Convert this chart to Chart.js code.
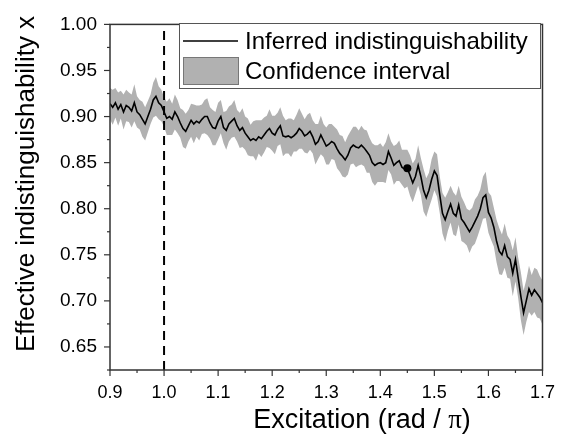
<!DOCTYPE html>
<html>
<head>
<meta charset="utf-8">
<title>Effective indistinguishability</title>
<script src="https://cdn.jsdelivr.net/npm/chart.js@4.4.0/dist/chart.umd.min.js"></script>
<style>
  body { margin: 0; background: #fff; }
</style>
</head>
<body>
<canvas id="myChart" width="567" height="435"></canvas>
<script>
// excitation (rad / pi)
const excitation = [
  0.900,0.905,0.910,0.915,0.920,0.925,0.930,0.935,0.940,0.945,0.950,0.955,0.960,0.965,0.970,0.975,0.980,0.985,0.990,0.995,
  1.000,1.005,1.010,1.015,1.020,1.025,1.030,1.035,1.040,1.045,1.050,1.055,1.060,1.065,1.070,1.075,1.080,1.085,1.090,1.095,
  1.100,1.105,1.110,1.115,1.120,1.125,1.130,1.135,1.140,1.145,1.150,1.155,1.160,1.165,1.170,1.175,1.180,1.185,1.190,1.195,
  1.200,1.205,1.210,1.215,1.220,1.225,1.230,1.235,1.240,1.245,1.250,1.255,1.260,1.265,1.270,1.275,1.280,1.285,1.290,1.295,
  1.300,1.305,1.310,1.315,1.320,1.325,1.330,1.335,1.340,1.345,1.350,1.355,1.360,1.365,1.370,1.375,1.380,1.385,1.390,1.395,
  1.400,1.405,1.410,1.415,1.420,1.425,1.430,1.435,1.440,1.445,1.450,1.455,1.460,1.465,1.470,1.475,1.480,1.485,1.490,1.495,
  1.500,1.505,1.510,1.515,1.520,1.525,1.530,1.535,1.540,1.545,1.550,1.555,1.560,1.565,1.570,1.575,1.580,1.585,1.590,1.595,
  1.600,1.605,1.610,1.615,1.620,1.625,1.630,1.635,1.640,1.645,1.650,1.655,1.660,1.665,1.670,1.675,1.680,1.685,1.690,1.695,1.700
];

// inferred indistinguishability
const inferred = [
  0.914,0.910,0.915,0.908,0.913,0.905,0.912,0.910,0.906,0.915,0.905,0.902,0.897,0.892,0.900,0.908,0.918,0.922,0.915,0.912,
  0.905,0.898,0.900,0.897,0.905,0.900,0.893,0.887,0.884,0.890,0.896,0.892,0.895,0.893,0.897,0.900,0.900,0.893,0.888,0.887,
  0.895,0.900,0.888,0.885,0.892,0.895,0.898,0.890,0.885,0.888,0.882,0.878,0.874,0.876,0.874,0.878,0.876,0.880,0.884,0.887,
  0.882,0.880,0.886,0.890,0.879,0.878,0.879,0.877,0.879,0.882,0.887,0.884,0.879,0.881,0.884,0.878,0.870,0.873,0.880,0.874,
  0.868,0.870,0.873,0.871,0.865,0.860,0.857,0.853,0.858,0.866,0.869,0.867,0.866,0.869,0.866,0.862,0.858,0.850,0.847,0.849,
  0.850,0.848,0.850,0.862,0.855,0.847,0.850,0.852,0.845,0.843,0.844,0.836,0.828,0.835,0.847,0.835,0.820,0.812,0.820,0.832,
  0.841,0.836,0.815,0.795,0.788,0.797,0.805,0.795,0.792,0.804,0.789,0.785,0.780,0.775,0.780,0.786,0.792,0.800,0.812,0.815,
  0.796,0.790,0.780,0.765,0.754,0.750,0.760,0.748,0.745,0.730,0.745,0.725,0.705,0.687,0.700,0.713,0.706,0.712,0.708,0.704,0.698
];

// half width of the confidence interval
const halfWidth = [
  0.017,0.019,0.016,0.018,0.015,0.019,0.017,0.016,0.018,0.020,0.017,0.016,0.019,0.018,0.017,0.016,0.019,0.021,0.018,0.017,
  0.016,0.018,0.020,0.017,0.019,0.018,0.016,0.020,0.019,0.017,0.018,0.021,0.017,0.019,0.016,0.018,0.020,0.017,0.019,0.018,
  0.020,0.018,0.017,0.021,0.019,0.018,0.020,0.017,0.019,0.021,0.018,0.020,0.017,0.019,0.022,0.018,0.020,0.019,0.017,0.021,
  0.019,0.021,0.018,0.020,0.022,0.018,0.019,0.021,0.017,0.020,0.022,0.019,0.018,0.021,0.020,0.018,0.022,0.019,0.021,0.018,
  0.020,0.022,0.019,0.018,0.021,0.020,0.022,0.019,0.021,0.018,0.020,0.022,0.019,0.021,0.020,0.023,0.019,0.021,0.022,0.020,
  0.021,0.019,0.022,0.020,0.018,0.021,0.020,0.022,0.019,0.021,0.020,0.022,0.021,0.019,0.022,0.020,0.023,0.021,0.019,0.022,
  0.021,0.023,0.020,0.022,0.024,0.021,0.020,0.023,0.022,0.021,0.024,0.022,0.020,0.023,0.021,0.024,0.022,0.021,0.023,0.025,
  0.022,0.024,0.021,0.023,0.025,0.022,0.024,0.023,0.021,0.025,0.024,0.022,0.026,0.024,0.023,0.025,0.022,0.024,0.026,0.023,0.024
];

const markerX = [1.0];        // dashed reference line
const dotX = [1.45];
const dotY = [0.844];

const yMin = 0.625, yMax = 1.0;
const xMin = 0.9, xMax = 1.7;

const xTitle = ['Excitation (rad / ', 'π', ')'];
const yTitle = 'Effective indistinguishability x';

const linePts = excitation.map((x, i) => ({ x: x, y: inferred[i] }));
const upperPts = excitation.map((x, i) => ({ x: x, y: inferred[i] + halfWidth[i] }));
const lowerPts = excitation.map((x, i) => ({ x: x, y: inferred[i] - halfWidth[i] }));

const FONT = "'Liberation Sans', Arial, sans-serif";
const SERIF = "'Liberation Serif', 'Times New Roman', serif";
const BAND = '#b1b1b1';

const frame = {
  id: 'frame',
  afterDraw(chart) {
    const ctx = chart.ctx;
    const a = chart.chartArea;
    const xs = chart.scales.x, ys = chart.scales.y;
    ctx.save();
    ctx.strokeStyle = '#333';
    ctx.lineWidth = 1.5;
    ctx.strokeRect(a.left, a.top, a.right - a.left, a.bottom - a.top);
    // ticks, major ones a bit longer
    ctx.lineWidth = 1.2;
    xs.ticks.forEach(t => {
      const px = xs.getPixelForValue(t.value);
      const major = Math.abs(t.value * 10 - Math.round(t.value * 10)) < 1e-6;
      ctx.beginPath();
      ctx.moveTo(px, a.bottom);
      ctx.lineTo(px, a.bottom + (major ? 6 : 3));
      ctx.stroke();
    });
    ys.ticks.forEach(t => {
      const py = ys.getPixelForValue(t.value);
      const major = Math.abs(t.value * 20 - Math.round(t.value * 20)) < 1e-6;
      ctx.beginPath();
      ctx.moveTo(a.left, py);
      ctx.lineTo(a.left - (major ? 6 : 3), py);
      ctx.stroke();
    });

    // legend box
    const lx = 179, ly = 23, lw = 361, lh = 65;
    ctx.fillStyle = '#fff';
    ctx.fillRect(lx, ly, lw, lh);
    ctx.strokeStyle = '#555';
    ctx.lineWidth = 1;
    ctx.strokeRect(lx + 0.5, ly + 0.5, lw, lh);
    ctx.strokeStyle = '#000';
    ctx.lineWidth = 1.5;
    ctx.beginPath();
    ctx.moveTo(183, 41);
    ctx.lineTo(238, 41);
    ctx.stroke();
    ctx.fillStyle = BAND;
    ctx.fillRect(183, 57, 55, 27);
    ctx.strokeStyle = '#777';
    ctx.lineWidth = 1;
    ctx.strokeRect(183.5, 57.5, 55, 27);
    ctx.fillStyle = '#000';
    ctx.font = '24px ' + FONT;
    ctx.textBaseline = 'alphabetic';
    ctx.textAlign = 'left';
    ctx.fillText(chart.data.datasets[2].label, 245, 49);
    ctx.fillText(chart.data.datasets[0].label, 245, 79);

    // x title, with a serif pi
    ctx.font = '27px ' + FONT;
    const w0 = ctx.measureText(xTitle[0]).width;
    const w2 = ctx.measureText(xTitle[2]).width;
    ctx.font = '27px ' + SERIF;
    const w1 = ctx.measureText(xTitle[1]).width;
    let tx = 362 - (w0 + w1 + w2) / 2;
    const ty = 428;
    ctx.font = '27px ' + FONT;
    ctx.fillText(xTitle[0], tx, ty);
    tx += w0;
    ctx.font = '27px ' + SERIF;
    ctx.fillText(xTitle[1], tx, ty);
    tx += w1;
    ctx.font = '27px ' + FONT;
    ctx.fillText(xTitle[2], tx, ty);

    // y title
    ctx.translate(34, 184);
    ctx.rotate(-Math.PI / 2);
    ctx.font = '26px ' + FONT;
    ctx.textAlign = 'center';
    ctx.fillText(yTitle, 0, 0);
    ctx.restore();
  }
};

new Chart(document.getElementById('myChart'), {
  type: 'line',
  data: {
    datasets: [
      {
        label: 'Confidence interval',
        data: upperPts,
        borderWidth: 0,
        pointRadius: 0,
        backgroundColor: BAND,
        fill: '+1',
        order: 3
      },
      {
        label: 'lower',
        data: lowerPts,
        borderWidth: 0,
        pointRadius: 0,
        fill: false,
        order: 4
      },
      {
        label: 'Inferred indistinguishability',
        data: linePts,
        borderColor: '#000',
        borderWidth: 1.6,
        pointRadius: 0,
        fill: false,
        order: 1
      },
      {
        label: 'dot',
        data: dotX.map((x, i) => ({ x: x, y: dotY[i] })),
        showLine: false,
        pointRadius: 4,
        pointBackgroundColor: '#000',
        pointBorderWidth: 0,
        order: 0
      },
      {
        label: 'marker',
        data: [{ x: markerX[0], y: yMin }, { x: markerX[0], y: yMax }],
        borderColor: '#000',
        borderWidth: 2,
        borderDash: [9, 6],
        pointRadius: 0,
        fill: false,
        order: 2
      }
    ]
  },
  options: {
    responsive: false,
    animation: false,
    layout: { padding: { top: 19, right: 21, left: 0, bottom: 0 } },
    plugins: { legend: { display: false }, tooltip: { enabled: false } },
    scales: {
      x: {
        type: 'linear',
        min: xMin,
        max: xMax,
        grid: { display: false, drawTicks: false },
        border: { display: false },
        ticks: {
          stepSize: 0.05,
          padding: 12,
          color: '#000',
          font: { family: FONT, size: 18 },
          maxRotation: 0,
          autoSkip: false,
          callback: v => Math.abs(v * 10 - Math.round(v * 10)) < 1e-6 ? v.toFixed(1) : ''
        },
        title: { display: false },
        afterFit: s => { s.height = 65; }
      },
      y: {
        min: yMin,
        max: yMax,
        grid: { display: false, drawTicks: false },
        border: { display: false },
        ticks: {
          stepSize: 0.025,
          padding: 13,
          color: '#000',
          font: { family: FONT, size: 19 },
          autoSkip: false,
          callback: v => Math.abs(v * 20 - Math.round(v * 20)) < 1e-6 ? v.toFixed(2) : ''
        },
        title: { display: false },
        afterFit: s => { s.width = 110; }
      }
    }
  },
  plugins: [frame]
});
</script>
</body>
</html>
